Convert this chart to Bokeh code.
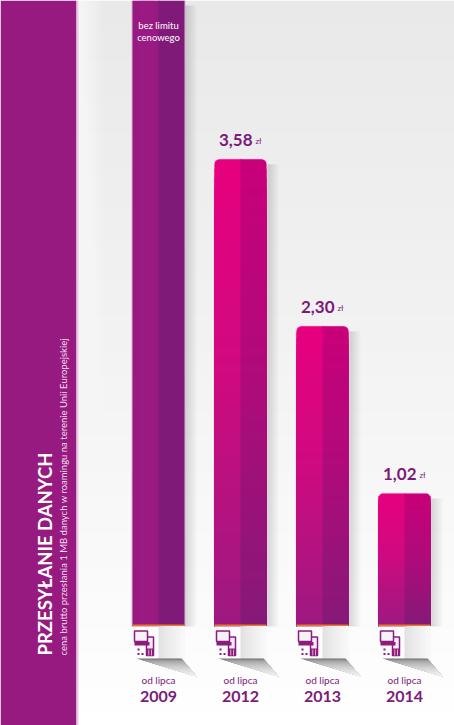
from bokeh.plotting import figure
from bokeh.models import Range1d
from bokeh.embed import file_html
from bokeh.resources import INLINE
from bokeh.core.properties import value as V
import math

# ---------- data ----------
years = ["2009", "2012", "2013", "2014"]
prices = [None, 3.58, 2.30, 1.02]        # None = no price limit, the bar runs off the top
price_labels = ["", "3,58", "2,30", "1,02"]
unit = "zł"
period = "od lipca"
no_limit = ["bez limitu", "cenowego"]
title = "PRZESYŁANIE DANYCH"
subtitle = "cena brutto przesłania 1 MB danych w roamingu na terenie Unii Europejskiej"

W, H = 454, 725
PURPLE = "#7c1a78"

# ---------- scales ----------
PX_PER_UNIT, BASE_PX = 130.5, 626
PITCH, FIRST_CX, BAR_W = 82, 158, 52
x_rng = Range1d((0 - FIRST_CX) / PITCH, (W - FIRST_CX) / PITCH)
y_rng = Range1d((BASE_PX - H) / PX_PER_UNIT, BASE_PX / PX_PER_UNIT)
HALF = BAR_W / 2 / PITCH
LAP = 1 / PITCH

p = figure(width=W, height=H, x_range=x_rng, y_range=y_rng, x_axis_type=None, y_axis_type=None,
           output_backend="svg", toolbar_location=None, min_border=0, outline_line_color=None,
           background_fill_color="white", border_fill_color="white")
p.grid.visible = False
p.styles = {"position": "absolute", "left": "0px", "top": "0px"}
p.extra_x_ranges = {"px": Range1d(0, W)}
p.extra_y_ranges = {"px": Range1d(H, 0)}
PX = dict(x_range_name="px", y_range_name="px")


def mix(a, b, t):
    ca = [int(a[i:i + 2], 16) for i in (1, 3, 5)]
    cb = [int(b[i:i + 2], 16) for i in (1, 3, 5)]
    return "#%02x%02x%02x" % tuple(round(x + (y - x) * t) for x, y in zip(ca, cb))


def ramp(stops, t):
    for (t0, c0), (t1, c1) in zip(stops, stops[1:]):
        if t <= t1:
            return mix(c0, c1, (t - t0) / (t1 - t0))
    return stops[-1][1]


def corner(xc, yc, dx_sign, r=5, n=6):
    """Arc points of a rounded top corner, in data units, from the side up to the top edge."""
    rx, ry = r / PITCH, r / PX_PER_UNIT
    pts = []
    for k in range(n + 1):
        a = math.pi / 2 * k / n
        pts.append((xc + dx_sign * rx * math.cos(a), yc + ry * math.sin(a)))
    return pts


# ---------- background ----------
N = 60
for i in range(N):
    t0 = i / N
    p.quad(left=78, right=W, top=t0 * H, bottom=H, fill_color=ramp([(0, "#e9e9e9"), (.45, "#f2f2f2"), (1, "#ffffff")], t0),
           line_color=None, **PX)
for k in range(12):
    p.quad(left=78, right=102 - k * 2, top=0, bottom=H, fill_color="white", fill_alpha=.09, line_color=None, **PX)
p.quad(left=0, right=76, top=0, bottom=H, fill_color="#971a80", line_color=None, **PX)
p.quad(left=76, right=78, top=0, bottom=H, fill_color="#e9c9e2", line_color=None, **PX)

# ---------- bars ----------
LEFT_STOPS = [(0, "#e6007e"), (.45, "#cf0a80"), (1, "#9b1a80")]
RIGHT_STOPS = [(0, "#c8007a"), (.45, "#b00a7a"), (1, "#841a78")]
BANDS = 50
for i, price in enumerate(prices):
    top_val = y_rng.end if price is None else price
    bar_top_px = BASE_PX - top_val * PX_PER_UNIT
    left_px = FIRST_CX + i * PITCH - BAR_W / 2
    right_px = left_px + BAR_W

    # soft shadow right of the bar
    for k in range(6):
        p.quad(left=right_px, right=right_px + 12 - k * 2, top=bar_top_px + 5, bottom=626,
               fill_color="black", fill_alpha=.022, line_color=None, **PX)

    if price is None:
        p.quad(left=i - HALF - LAP, right=i + HALF + LAP, top=top_val, bottom=0, fill_color="#d9b3d2",
               line_color=None)
        p.quad(left=i - HALF, right=i + LAP, top=top_val, bottom=0, fill_color="#961a80", line_color=None)
        p.quad(left=i, right=i + HALF, top=top_val, bottom=0, fill_color="#801a78", line_color=None)
        p.quad(left=i - HALF + 6 / PITCH, right=i - HALF + 22 / PITCH, top=top_val, bottom=0,
               fill_color="#a01d88", fill_alpha=.35, line_color=None)
    else:
        ry = 5 / PX_PER_UNIT
        rx = 5 / PITCH
        # pale rim round the bar
        p.quad(left=i - HALF - LAP, right=i + HALF + LAP, top=top_val + 1 / PX_PER_UNIT, bottom=0,
               fill_color="#f9d5e8", line_color=None, border_radius=6)
        # rounded top of each half, drawn as an outline in data units
        lc = corner(i - HALF + rx, top_val - ry, -1)
        rc = corner(i + HALF - rx, top_val - ry, 1)
        p.patch([i - HALF] + [q[0] for q in lc] + [i + LAP, i + LAP], [0] + [q[1] for q in lc] + [top_val, 0],
                fill_color=ramp(LEFT_STOPS, 0), line_color=None)
        p.patch([i + HALF] + [q[0] for q in rc] + [i, i], [0] + [q[1] for q in rc] + [top_val, 0],
                fill_color=ramp(RIGHT_STOPS, 0), line_color=None)
        for b in range(1, BANDS):
            t = b / BANDS
            val = top_val * (1 - t)
            p.quad(left=i - HALF, right=i + LAP, top=val, bottom=0, fill_color=ramp(LEFT_STOPS, t), line_color=None)
            p.quad(left=i, right=i + HALF, top=val, bottom=0, fill_color=ramp(RIGHT_STOPS, t), line_color=None)

    # orange foot line
    p.quad(left=left_px, right=right_px, top=624, bottom=626, fill_color="#e8782f", line_color=None, **PX)

    # white pedestal
    mid_px = left_px + BAR_W * 0.5
    p.quad(left=left_px, right=right_px, top=626, bottom=659, fill_color="#fcfcfc", line_color=None, **PX)
    steps = 13
    for k in range(steps):
        c = mix("#e2e2e2", "#f9f9f9", k / (steps - 1))
        p.quad(left=mid_px + k * 2, right=right_px, top=626, bottom=659, fill_color=c, line_color=None, **PX)

    # cast shadow under the pedestal
    sl, sr = left_px + 4, right_px - 3
    ex, ey = right_px + 12, 676
    n_sh = 17
    for k in range(n_sh):
        f0 = k / n_sh
        y0 = 658 + (ey - 658) * f0
        xl0 = sl + (ex - sl) * f0
        xr0 = sr + (ex - sr) * f0
        c = mix("#707070", "#f7f7f7", f0 ** .45)
        p.patch([xl0, xr0, ex], [y0, y0, ey], fill_color=c, line_color=None, **PX)

    # device icon
    ix = left_px + 2
    IC = "#8f1a7e"
    p.quad(left=ix + 12, right=ix + 19, top=636.5, bottom=655, fill_color="#f6eef5", line_color=IC, line_width=1.5, **PX)
    p.quad(left=ix + 12, right=ix + 19, top=648, bottom=655, fill_color=IC, line_color=None, **PX)
    for gx in (14, 16.5):
        p.quad(left=ix + gx, right=ix + gx + .7, top=649, bottom=655, fill_color="#f6eef5", line_color=None, **PX)
    p.quad(left=ix, right=ix + 13, top=630.5, bottom=641, fill_color="#f4f4f4", line_color=IC, line_width=1.5, **PX)
    p.quad(left=ix, right=ix + 15, top=641.5, bottom=645, fill_color=IC, line_color=None, **PX)
    for dx, dy in [(3, 648), (3, 652.5), (7, 652.5)]:
        p.quad(left=ix + dx, right=ix + dx + 2, top=dy, bottom=dy + 2, fill_color=IC, line_color=None, **PX)

    # labels
    p.text(x=[i], y=[0], text=[period], x_offset=[0], y_offset=[53], text_align="center", text_baseline="middle",
           text_font=V("Lato"), text_font_size="10px", text_color=PURPLE)
    p.text(x=[i], y=[0], text=[years[i]], x_offset=[0], y_offset=[70], text_align="center", text_baseline="middle",
           text_font=V("Lato"), text_font_style="bold", text_font_size="16px", text_color=PURPLE)
    if price is not None:
        p.text(x=[i], y=[price], text=[price_labels[i]], x_offset=[12], y_offset=[-19], text_align="right",
               text_baseline="middle", text_font=V("Lato"), text_font_style="bold", text_font_size="17px",
               text_color=PURPLE)
        p.text(x=[i], y=[price], text=[unit], x_offset=[15], y_offset=[-18], text_align="left",
               text_baseline="middle", text_font=V("Lato"), text_font_size="8px", text_color=PURPLE)

for k, line in enumerate(no_limit):
    p.text(x=[0], y=[0], text=[line], x_offset=[0], y_offset=[-601 + k * 12], text_align="center",
           text_baseline="middle", text_font=V("Lato"), text_font_size="9.5px", text_color="white")

# ---------- side titles ----------
p.text(x=[44.5], y=[655], text=[title], angle=[math.pi / 2], text_align="left", text_baseline="middle",
       text_font=V("Lato"), text_font_style="bold", text_font_size="18.5px", text_color="white", **PX)
p.text(x=[63], y=[655], text=[subtitle], angle=[math.pi / 2], text_align="left", text_baseline="middle",
       text_font=V("Lato"), text_font_size="9.5px", text_color="#f3dcee", **PX)

open("out.html", "w").write(file_html(p, INLINE))
